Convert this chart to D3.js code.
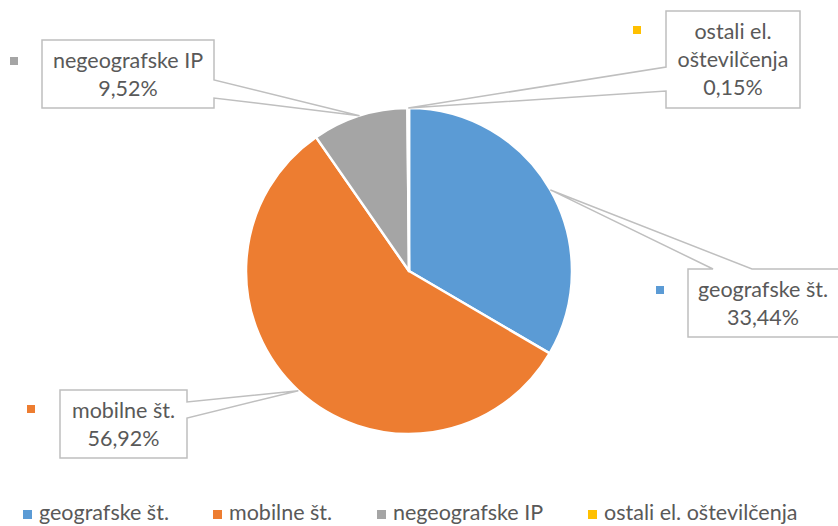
<!DOCTYPE html>
<html>
<head>
<meta charset="utf-8">
<script src="https://cdn.jsdelivr.net/npm/d3@7"></script>
<style>
  body { margin: 0; background: #fff; }
  svg { display: block; font-family: Lato, "Open Sans", sans-serif; }
</style>
</head>
<body>
<div class="chart"></div>
<script>
const WIDTH = 838;
const HEIGHT = 526;

// data
const CATEGORIES = ["geografske št.", "mobilne št.", "negeografske IP", "ostali el. oštevilčenja"];
const VALUES = [33.44, 56.92, 9.52, 0.15];
const VALUE_LABELS = ["33,44%", "56,92%", "9,52%", "0,15%"];
const LABEL_LINES = [
  ["geografske št."],
  ["mobilne št."],
  ["negeografske IP"],
  ["ostali el.", "oštevilčenja"]
];
const COLORS = ["#5B9BD5", "#ED7D31", "#A5A5A5", "#FFC000"];

// layout of the callout boxes (box, side of the pointer, pointer opening)
const CALLOUTS = [
  {box: [688, 269, 841, 337], side: "top", open: [713, 752], key: [656, 286]},
  {box: [60, 390, 187, 458], side: "right", open: [402, 418], key: [27, 405]},
  {box: [42, 40, 214, 108], side: "right", open: [80, 98], key: [10, 57]},
  {box: [666, 11, 800, 108], side: "left", open: [67, 91], key: [633, 26]}
];
const LEGEND_X = [23, 213, 377, 588];
const FONT = "21.5px";

const CX = 409, CY = 271, RADIUS = 163;

const SVG = d3.select(".chart")
              .append("svg")
              .attr("width", WIDTH)
              .attr("height", HEIGHT);

const data = CATEGORIES.map((c, i) => ({name: c, value: VALUES[i], i: i}));

const PIE = d3.pie().sort(null).value(d => d.value);
const ARC = d3.arc().innerRadius(0).outerRadius(RADIUS);
const EDGE = d3.arc().innerRadius(RADIUS).outerRadius(RADIUS);

const arcs = PIE(data);

const PIE_G = SVG.append("g")
                 .attr("transform", "translate(" + CX + "," + CY + ")");

PIE_G.selectAll("path")
     .data(arcs)
     .enter()
     .append("path")
       .attr("d", ARC)
       .attr("fill", d => COLORS[d.data.i])
       .attr("stroke", "#fff")
       .attr("stroke-width", 2.5)
       .attr("stroke-linejoin", "round");

// callouts
function calloutPath(c, tip) {
  const [x0, y0, x1, y1] = c.box;
  const [a, b] = c.open;
  if (c.side == "top") {
    return `M${x0},${y0}H${a}L${tip[0]},${tip[1]}L${b},${y0}H${x1}V${y1}H${x0}Z`;
  }
  if (c.side == "right") {
    return `M${x0},${y0}H${x1}V${a}L${tip[0]},${tip[1]}L${x1},${b}V${y1}H${x0}Z`;
  }
  return `M${x0},${y0}H${x1}V${y1}H${x0}V${b}L${tip[0]},${tip[1]}L${x0},${a}Z`;
}

arcs.forEach((d, i) => {
  const c = CALLOUTS[i];
  const cen = EDGE.centroid(d);
  const tip = [CX + cen[0], CY + cen[1]];

  SVG.append("path")
     .attr("d", calloutPath(c, tip))
     .attr("fill", "#fff")
     .attr("stroke", "#BFBFBF")
     .attr("stroke-width", 1.5);

  const lines = LABEL_LINES[i].concat([VALUE_LABELS[i]]);
  const lh = 28;
  const midX = (c.box[0] + Math.min(c.box[2], 838)) / 2;
  const midY = (c.box[1] + c.box[3]) / 2;
  const firstY = midY - (lines.length - 1) * lh / 2;

  const txt = SVG.append("text")
                 .attr("text-anchor", "middle")
                 .attr("font-size", FONT)
                 .attr("fill", "#595959");
  lines.forEach((l, k) => {
    txt.append("tspan")
       .attr("x", midX)
       .attr("y", firstY + k * lh)
       .attr("dy", "0.35em")
       .text(l);
  });

  SVG.append("rect")
     .attr("x", c.key[0])
     .attr("y", c.key[1])
     .attr("width", 8)
     .attr("height", 8)
     .attr("fill", COLORS[i]);
});

// legend
const LEGEND = SVG.append("g").attr("class", "legend");
CATEGORIES.forEach((c, i) => {
  LEGEND.append("rect")
        .attr("x", LEGEND_X[i])
        .attr("y", 510)
        .attr("width", 9)
        .attr("height", 9)
        .attr("fill", COLORS[i]);
  LEGEND.append("text")
        .attr("x", LEGEND_X[i] + 16)
        .attr("y", 520)
        .attr("font-size", FONT)
        .attr("fill", "#595959")
        .text(c);
});
</script>
</body>
</html>
